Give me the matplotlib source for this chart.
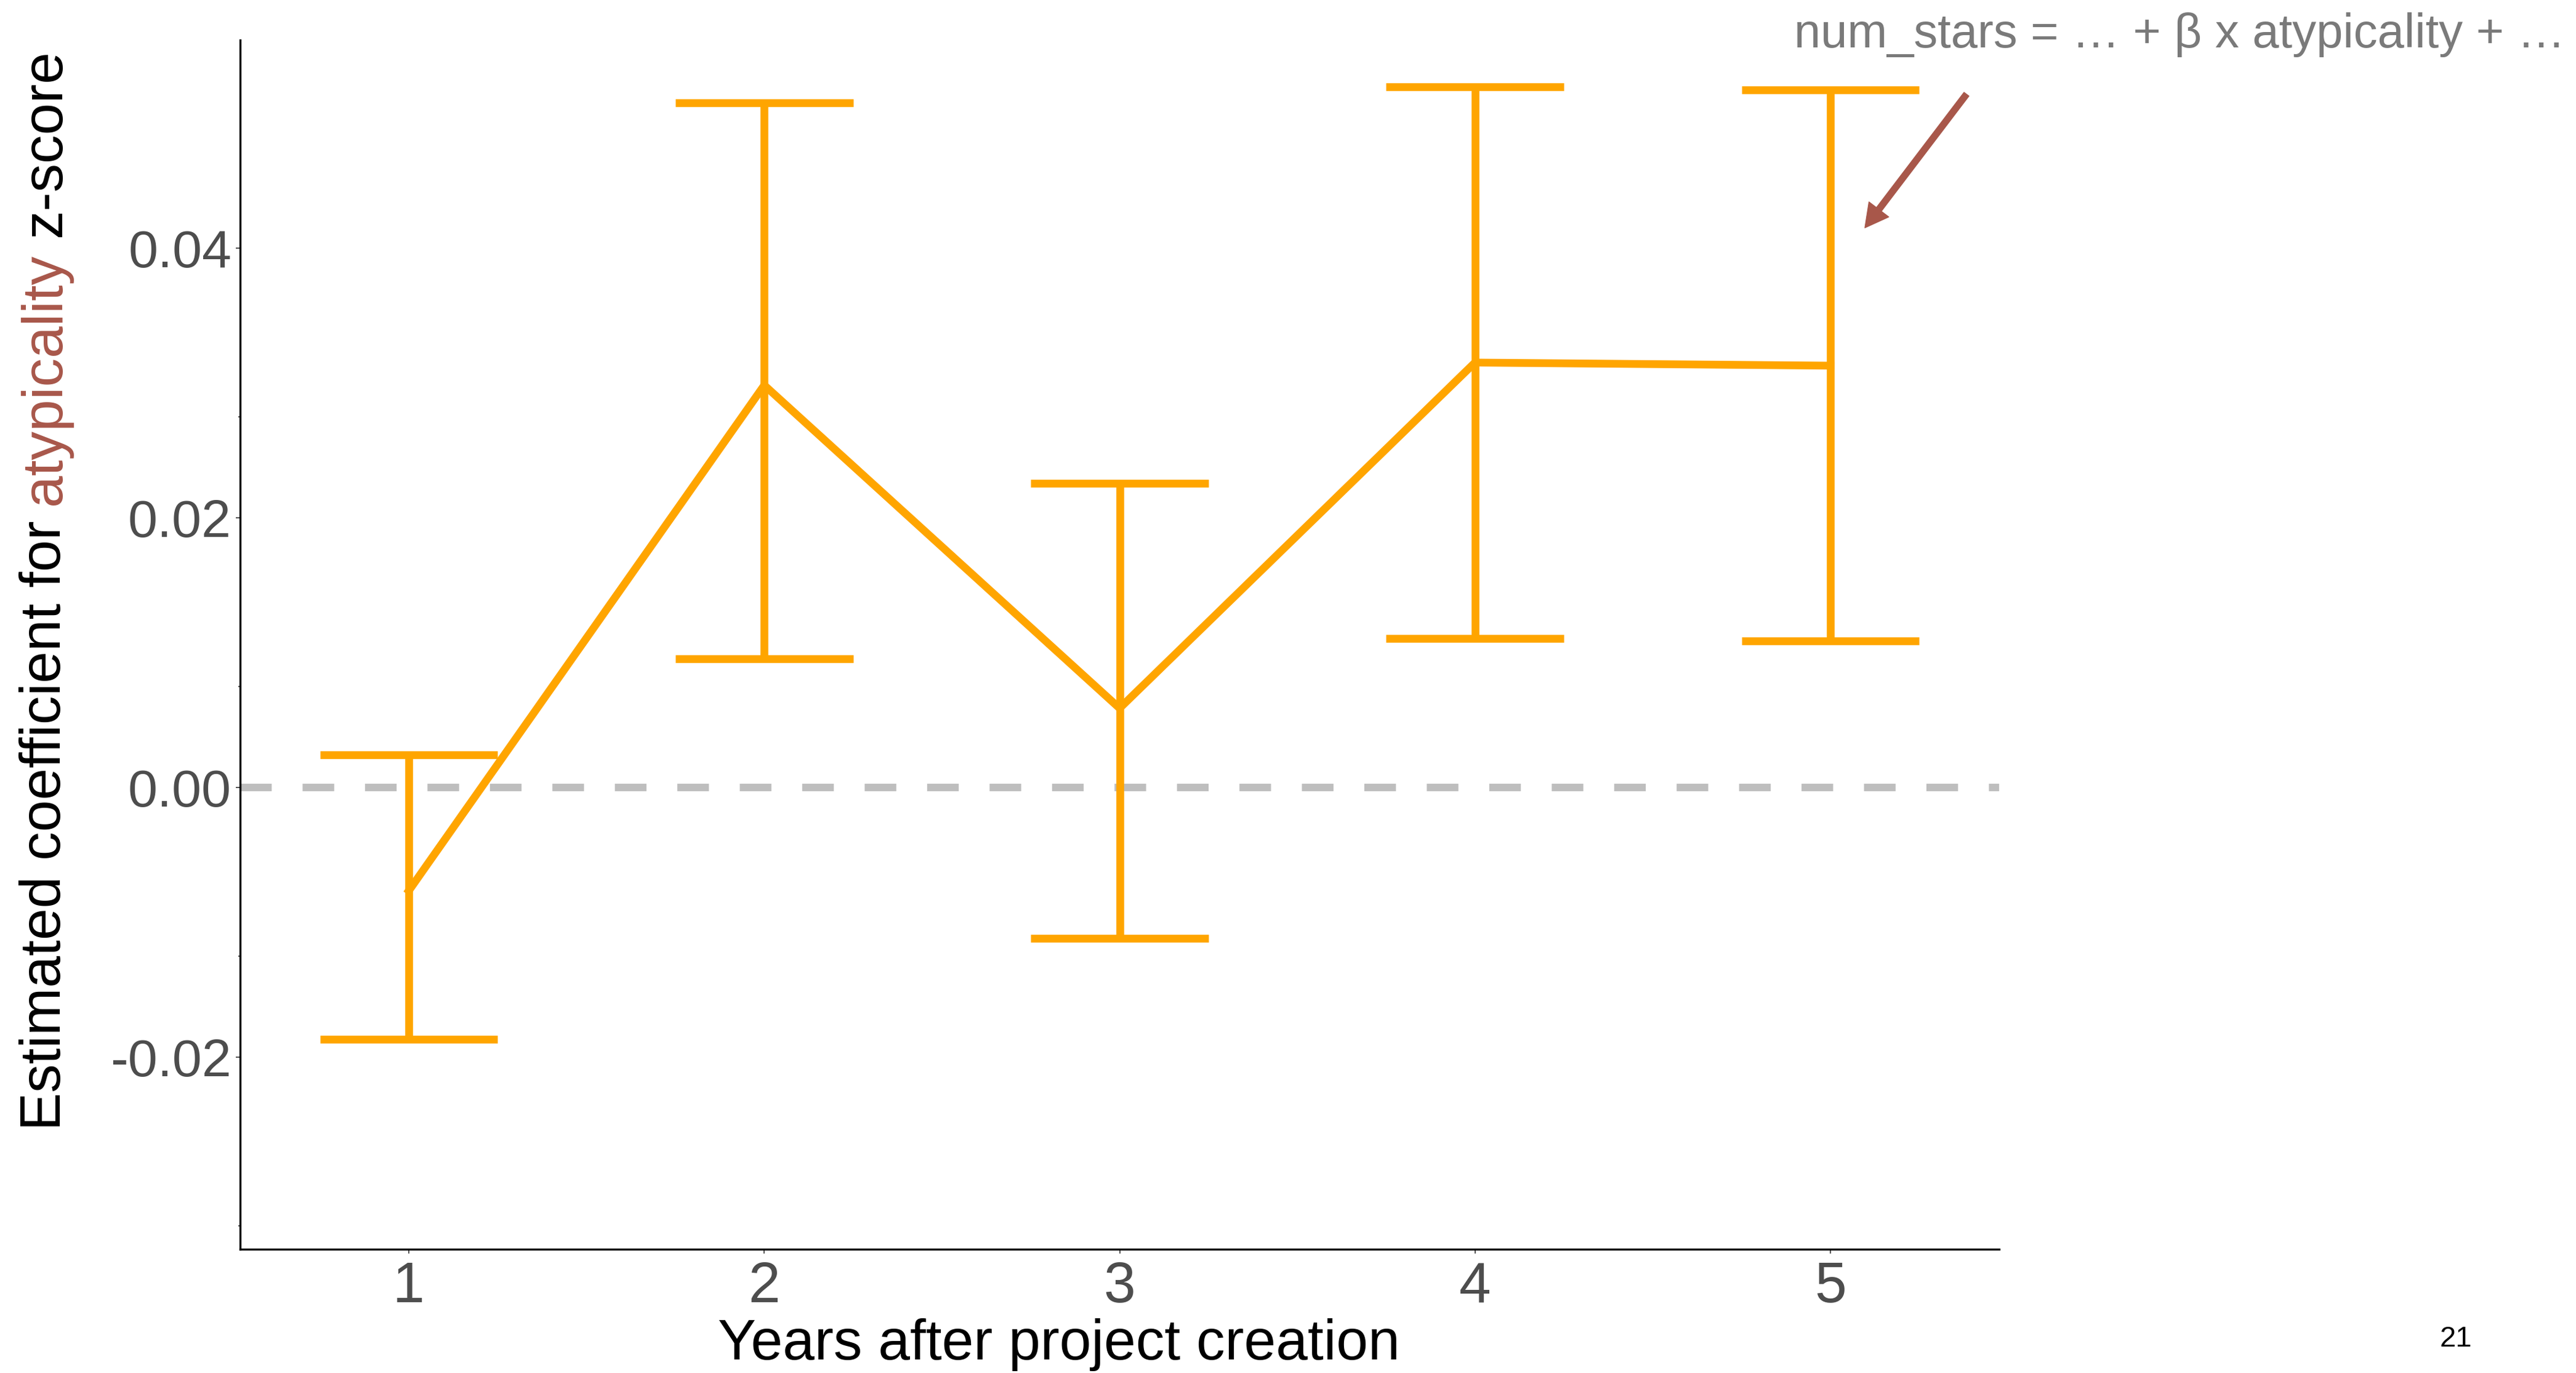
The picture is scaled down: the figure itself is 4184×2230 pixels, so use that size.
import matplotlib
matplotlib.use("Agg")
import matplotlib.pyplot as plt
import numpy as np

# ---------- data ----------
years = [1, 2, 3, 4, 5]
coef = [-0.00765, 0.02983, 0.00587, 0.03151, 0.03128]
ci_low = [-0.01866, 0.00956, -0.01121, 0.01103, 0.01088]
ci_high = [0.00240, 0.05078, 0.02257, 0.05194, 0.05173]

y_ticks = [-0.02, 0.00, 0.02, 0.04]
y_tick_labels = ["-0.02", "0.00", "0.02", "0.04"]
ghost_ticks = [-0.0325, -0.0125, 0.0075, 0.0275]

ORANGE = "#FFA500"
RUST = "#A8574A"
FONT = "Liberation Sans"

W, H = 4184, 2230
fig = plt.figure(figsize=(W / 100, H / 100), dpi=100)
ax = fig.add_axes([390 / W, 1 - 2029 / H, (3247 - 390) / W, (2029 - 65) / H])

# zero reference line
ax.axhline(0, color="#BEBEBE", lw=8.8, dashes=(4.2, 4.1), solid_capstyle="butt",
           dash_capstyle="butt", zorder=1)

# error bars: stems and caps
x = np.array(years)
ax.vlines(x, ci_low, ci_high, color=ORANGE, lw=9.1, zorder=3)
ax.hlines(ci_low, x - 0.25, x + 0.25, color=ORANGE, lw=9.1, zorder=3)
ax.hlines(ci_high, x - 0.25, x + 0.25, color=ORANGE, lw=9.1, zorder=3)
ax.plot(x, coef, color=ORANGE, lw=9.1, solid_joinstyle="round", zorder=3)

ax.set_xlim(0.525, 5.475)
ax.set_ylim(-0.03425, 0.05543)

ax.set_xticks(years)
ax.set_xticklabels([str(v) for v in years], fontsize=67, family=FONT, color="#4D4D4D")
ax.set_yticks(y_ticks)
ax.set_yticklabels(y_tick_labels, fontsize=62, family=FONT, color="#4D4D4D")
ax.set_yticks(ghost_ticks, minor=True)
ax.tick_params(axis="x", which="major", length=5, width=1.2, color="#333333", pad=9)
ax.tick_params(axis="y", which="major", length=5, width=1.2, color="#333333", pad=5)
ax.tick_params(axis="y", which="minor", length=2.5, width=1.2, color="#333333")

for side in ["top", "right"]:
    ax.spines[side].set_visible(False)
for side in ["left", "bottom"]:
    ax.spines[side].set_linewidth(2.4)
    ax.spines[side].set_color("black")

# x label
fig.text(1720 / W, 22 / H, "Years after project creation", fontsize=67, family=FONT,
         ha="center", va="baseline", color="black")

# y label with a coloured word
renderer = fig.canvas.get_renderer()
lab_kw = dict(fontsize=67, family=FONT, rotation=90)


def text_len(s):
    t = fig.text(0, 0, s, **lab_kw)
    n = t.get_window_extent(renderer).height
    t.remove()
    return n


parts = ["Estimated coefficient for", " atypicality", " z-score"]
colors = ["black", RUST, "black"]
x0 = 98 / W
y0 = (H - 1836)
prefix = ""
for p, c in zip(parts, colors):
    word = p.lstrip()
    gap = p[:len(p) - len(word)]
    off = text_len(prefix + gap + "x") - text_len("x") if prefix else 0
    fig.text(x0, (y0 + off) / H, word, color=c,
             rotation_mode="anchor", ha="left", va="baseline", **lab_kw)
    prefix += p

# equation note and arrow
fig.text(2914 / W, 1 - 77 / H, "num_stars = \u2026 + \u03b2 x atypicality + \u2026",
         fontsize=56, family=FONT, color="#7A7A7A",
         ha="left", va="baseline")
fig.patches.append(matplotlib.patches.FancyArrowPatch(
    (3194 / W, 1 - 153 / H), (3029 / W, 1 - 370 / H), transform=fig.transFigure,
    arrowstyle="simple, head_length=2.7, head_width=2.9, tail_width=0.72",
    mutation_scale=10, color=RUST, shrinkA=0, shrinkB=0))

# slide number
fig.text(3963 / W, 1 - 2187 / H, "21", fontsize=34, family=FONT, color="black",
         ha="left", va="baseline")

fig.savefig("out.png", dpi=100)
